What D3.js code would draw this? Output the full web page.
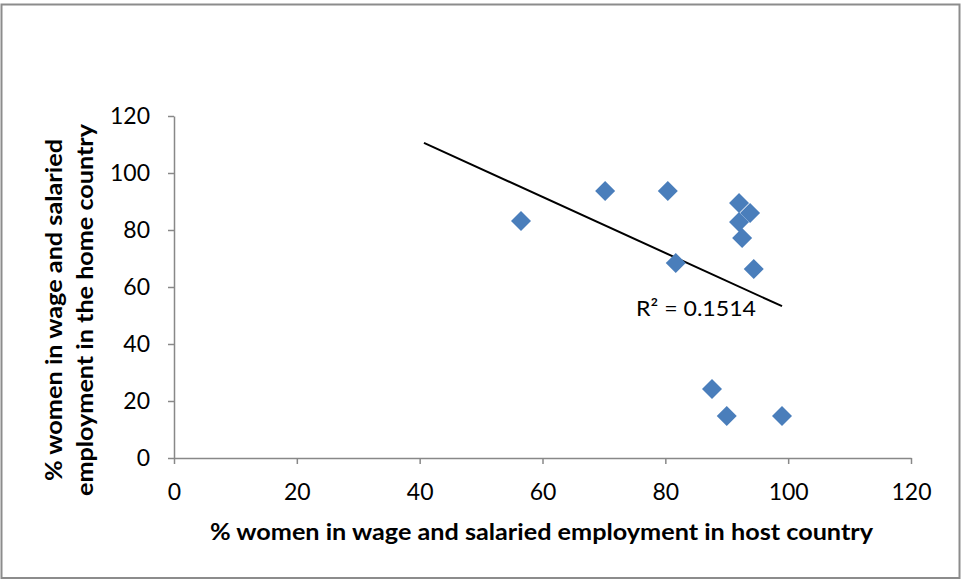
<!DOCTYPE html>
<html><head><meta charset="utf-8">
<script src="https://cdn.jsdelivr.net/npm/d3@7"></script>
<style>body{margin:0;background:#fff}svg text{font-family:Lato,"Liberation Sans",sans-serif}</style>
</head><body>
<svg id="c" width="961" height="580"></svg>
<script>
const hostPct = [56.5, 70.2, 80.4, 81.7, 92.0, 93.8, 92.0, 92.5, 94.4, 87.6, 90.0, 99.0];
const homePct = [83.2, 93.7, 93.7, 68.4, 89.5, 86.0, 82.8, 77.2, 66.3, 24.2, 14.7, 14.7];
const xTicks = [0, 20, 40, 60, 80, 100, 120];
const yTicks = [0, 20, 40, 60, 80, 100, 120];
const trendStartX = 40.7;
const r2Label = "R² = 0.1514";
const xTitle = "% women in wage and salaried employment in host country";
const yTitle = ["% women in wage and salaried", "employment in the home country"];

const svg = d3.select("#c");
svg.append("rect").attr("x",1.5).attr("y",4.5).attr("width",958).attr("height",573.5)
  .attr("fill","#fff").attr("stroke","#8c8c8c").attr("stroke-width",2);

const x = d3.scaleLinear().domain([0,120]).range([174,911]);
const y = d3.scaleLinear().domain([0,120]).range([458,116]);

const axisColor = "#888";
const xa = svg.append("g").attr("transform","translate(0,458)")
  .call(d3.axisBottom(x).tickValues(xTicks).tickSize(6).tickPadding(24).tickSizeOuter(0));
const ya = svg.append("g").attr("transform","translate(174,0)")
  .call(d3.axisLeft(y).tickValues(yTicks).tickSize(6).tickPadding(18).tickSizeOuter(0));
[xa,ya].forEach(g=>{
  g.select(".domain").attr("stroke",axisColor).attr("stroke-width",1.5);
  g.selectAll(".tick line").attr("stroke",axisColor).attr("stroke-width",1.5);
  g.selectAll(".tick text").attr("fill","#000").style("font-size","23px").style("font-family","Lato,'Liberation Sans',sans-serif");
});
xa.selectAll(".tick text").attr("dy","0.5em");

// trendline (least squares)
const n = hostPct.length;
const mx = d3.mean(hostPct), my = d3.mean(homePct);
let sxy=0, sxx=0;
for(let i=0;i<n;i++){sxy+=(hostPct[i]-mx)*(homePct[i]-my); sxx+=(hostPct[i]-mx)**2;}
const slope = sxy/sxx, icpt = my - slope*mx;
const x1 = trendStartX, x2 = d3.max(hostPct);
svg.append("line").attr("x1",x(x1)).attr("y1",y(slope*x1+icpt))
  .attr("x2",x(x2)).attr("y2",y(slope*x2+icpt))
  .attr("stroke","#000").attr("stroke-width",2);

// points
svg.append("g").selectAll("path").data(hostPct.map((v,i)=>[v,homePct[i]])).join("path")
  .attr("d", d3.symbol().type(d3.symbolSquare).size(200))
  .attr("transform", d=>`translate(${x(d[0])},${y(d[1])}) rotate(45)`)
  .attr("fill","#4a7ebb");

svg.append("text").attr("x",636).attr("y",316).style("font-size","22px")
  .attr("textLength",120).attr("lengthAdjust","spacingAndGlyphs").text(r2Label);

svg.append("text").attr("x",210).attr("y",540)
  .style("font-size","22px").style("font-weight","bold")
  .attr("textLength",663).attr("lengthAdjust","spacingAndGlyphs").text(xTitle);

const yt = svg.append("g").attr("transform","translate(0,310) rotate(-90)");
const yLens = [342, 372], yBase = [62, 93];
yTitle.forEach((t,i)=>{
  yt.append("text").attr("x",-yLens[i]/2).attr("y",yBase[i])
    .style("font-size","22px").style("font-weight","bold")
    .attr("textLength",yLens[i]).attr("lengthAdjust","spacingAndGlyphs").text(t);
});
</script>
</body></html>
